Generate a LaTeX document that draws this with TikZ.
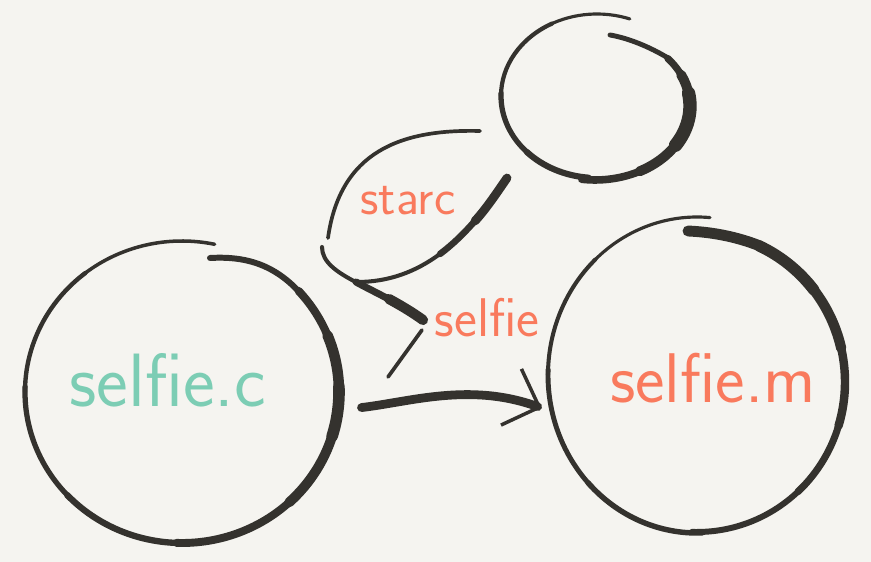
\documentclass[tikz,border=0pt]{standalone}
\usepackage{fontspec}
\usetikzlibrary{arrows.meta}
\definecolor{paper}{HTML}{F5F4F0}
\definecolor{ink}{HTML}{34322E}
\definecolor{mint}{HTML}{7CCDB4}
\definecolor{coral}{HTML}{F97A5D}
\tikzset{
  pen/.style={draw=ink,line cap=round,line width=#1},
  pen/.default=1.6pt,
  filecircle/.style={circle,minimum size=6.2cm,inner sep=0pt,
    font=\sffamily\fontsize{43}{43}\selectfont},
  smallname/.style={text=coral,font=\sffamily\fontsize{29}{29}\selectfont}
}
\begin{document}
\begin{tikzpicture}[x=.2mm,y=.2mm]
    \fill[paper] (0,0) rectangle (871,562);
    \node[filecircle,text=mint] (selfc) at (168,182) {selfie.c};
    \node[filecircle,text=coral,font=\sffamily\fontsize{40}{40}\selectfont] (selfm) at (713,184) {selfie.m};
    \node[smallname] (starc) at (408,361) {starc};
    \node[smallname,font=\sffamily\fontsize{31}{31}\selectfont] (selflabel) at (487,244) {selfie};
    % left circle
    \foreach \a/\b/\w in {78/130/2pt,128/180/2.5pt,178/225/3pt,223/270/3.6pt,268/315/4.5pt,
      313/345/5.6pt,343/362/6.6pt,360/382/6pt,380/402/4.6pt}
    \draw[pen=\w] (182,170) ++(\a:157 and 151) arc[start angle=\a,end angle=\b,x radius=157,y radius=151];
    \draw[pen=3.4pt] (302,267) .. controls (275,298) and (245,306) .. (210,304);
    % right circle
    \foreach \a/\b/\w in {85/135/1.8pt,133/180/2.3pt,178/225/2.8pt,223/272/3.1pt}
    \draw[pen=\w] (697,187) ++(\a:149 and 158) arc[start angle=\a,end angle=\b,x radius=149,y radius=158];
    \foreach \a/\b/\w in {268/315/3.4pt,313/345/4pt,343/375/4.8pt,373/400/5.8pt,398/425/6.5pt}
    \draw[pen=\w] (697,180) ++(\a:148 and 150) arc[start angle=\a,end angle=\b,x radius=148,y radius=150];
    \draw[pen=6.2pt] (760,316) .. controls (735,326) and (710,330) .. (688,331);
    % top circle
    \foreach \a/\b/\w in {70/120/1.8pt,118/180/2.4pt,178/225/3pt,223/265/3.5pt}
    \draw[pen=\w] (597,466) ++(\a:96 and 82) arc[start angle=\a,end angle=\b,x radius=96,y radius=82];
    \foreach \a/\b/\w in {262/300/4.3pt,298/330/5.6pt,328/370/7.6pt,368/385/5.6pt,383/400/4pt}
    \draw[pen=\w] (595,456) ++(\a:95 and 74) arc[start angle=\a,end angle=\b,x radius=95,y radius=74];
    \draw[pen=2.8pt] (668,504) .. controls (650,515) and (628,524) .. (610,527);
    % starc
    \draw[pen=2.1pt] (480,431) .. controls (400,433) and (340,410) .. (328,324);
    \draw[pen=2.3pt] (507,384) .. controls (465,320) and (420,280) .. (357,280);
    \draw[pen=3.7pt] (507,384) .. controls (486,352) and (464,326) .. (440,308);
    \draw[pen=5pt] (507,384) .. controls (496,368) and (486,353) .. (475,341);
    \draw[pen=2.3pt] (322,315) .. controls (322,285) and (380,275) .. (423,242);
    \draw[pen=4pt] (356,280) .. controls (376,269) and (401,258) .. (423,242);
    \draw[pen=5.8pt] (389,263) .. controls (400,257) and (412,250) .. (423,242);
    \draw[pen=2.1pt] (422,232) -- (388,185);
    % arrow
    \draw[pen=5pt,-{Straight Barb[length=17pt,width=34pt,line width=2pt]},shorten <=23.8pt,shorten >=12.5pt]
      (selfc.-12) .. controls (410,160) and (470,180) .. (selfm.194);
\end{tikzpicture}
\end{document}
